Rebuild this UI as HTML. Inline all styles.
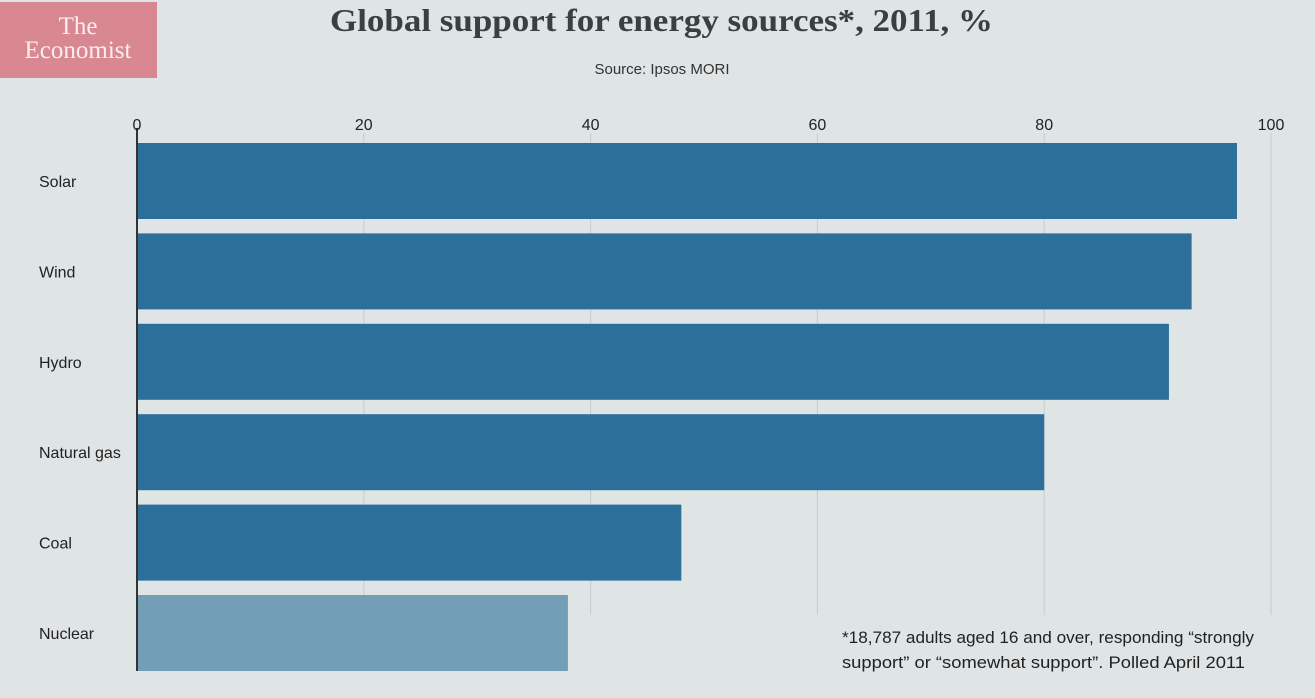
<!DOCTYPE html>
<html><head><meta charset="utf-8"><style>
body{margin:0;width:1315px;height:693px;background:#dfe4e4;overflow:hidden;font-family:"Liberation Sans",sans-serif;}
</style></head><body>
<svg width="1315" height="693">
<rect x="0" y="0" width="1315" height="693" fill="#dfe4e4"/>
<g>
<rect x="0" y="2" width="157" height="76" fill="#d98892"/>
<text x="78" y="34" text-anchor="middle" font-family="Liberation Serif,serif" font-size="25" fill="#fbeef0">The</text>
<text x="78" y="58" text-anchor="middle" font-family="Liberation Serif,serif" font-size="25" fill="#fbeef0">Economist</text>
</g>
<text x="330" y="31" textLength="663" lengthAdjust="spacingAndGlyphs" font-family="Liberation Serif,serif" font-weight="bold" font-size="32" fill="#3a3f40">Global support for energy sources*, 2011, %</text>
<text x="662" y="74" text-anchor="middle" font-size="15" fill="#333">Source: Ipsos MORI</text>
<g id="grid"></g><g id="bars"></g>
<text x="842" y="643" textLength="412" lengthAdjust="spacingAndGlyphs" font-size="17" fill="#222">*18,787 adults aged 16 and over, responding “strongly</text>
<text x="842" y="668" textLength="403" lengthAdjust="spacingAndGlyphs" font-size="17" fill="#222">support” or “somewhat support”. Polled April 2011</text>
</svg>
<script>
const categories=["Solar","Wind","Hydro","Natural gas","Coal","Nuclear"];
const values=[97,93,91,80,48,38];
const ticks=[0,20,40,60,80,100];
const NS="http://www.w3.org/2000/svg";
const x=v=>137+v*11.34;
const y=i=>143+i*90.4;
function mk(t,a,p){const e=document.createElementNS(NS,t);for(const k in a)e.setAttribute(k,a[k]);p.appendChild(e);return e;}
const g=document.getElementById('grid'),b=document.getElementById('bars');
ticks.forEach(t=>{
 const l=mk('line',{x1:x(t),x2:x(t),y1:t===0?128:133,y2:t===0?671:615,stroke:t===0?'#333':'#c6cccc','stroke-width':t===0?2:1},g);
 
 
 const tx=mk('text',{x:x(t),y:130,'text-anchor':'middle','font-size':16,fill:'#222'},g);tx.textContent=t;
 
 
});
categories.forEach((c,i)=>{
 const r=mk('rect',{x:x(0)+1,y:y(i),width:x(values[i])-x(0)-1,height:76,fill:c==="Nuclear"?'#729fb6':'#2b6f9a'},b);
 
 
 const t=mk('text',{x:39,y:y(i)+44,'font-size':16,fill:'#222'},b);t.textContent=c;
 
 
});
</script>
</body></html>
